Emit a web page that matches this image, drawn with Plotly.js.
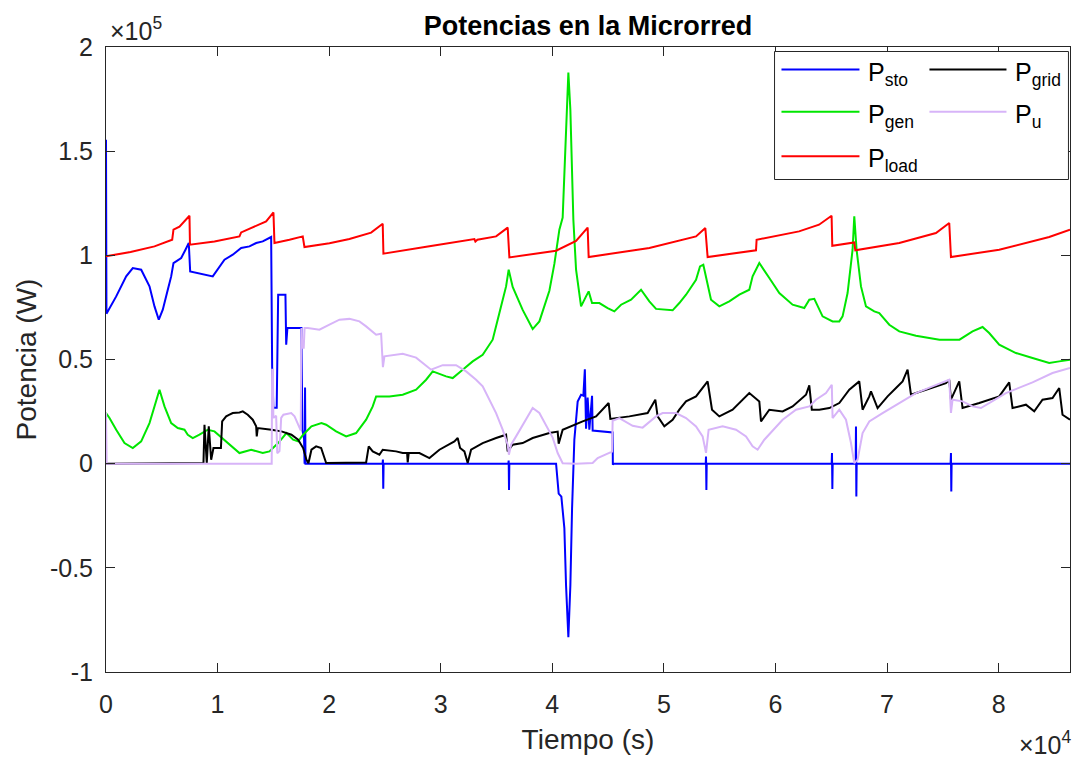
<!DOCTYPE html>
<html>
<head>
<meta charset="utf-8">
<script src="https://cdn.plot.ly/plotly-3.0.1.min.js"></script>
<style>html,body{margin:0;padding:0;background:#fff;}#chart{width:1075px;height:757px;}</style>
</head>
<body>
<div id="chart"></div>
<script>
// ---- Data (time in s, power in W) ----
const stoData = [[0,155500],[40,72000],[914,80300],[1810,89900],[2401,93900],[3154,93100],[3898,85100],[4346,75500],[4731,69100],[5089,73900],[5537,83500],[5842,89900],[6048,96300],[6433,97600],[6738,98700],[7123,102700],[7419,105900],[7544,92300],[8378,91200],[9569,89900],[10618,97900],[11361,100300],[12114,103500],[12858,104300],[13458,105900],[14049,106700],[14802,108800],[14891,46700],[15000,26900],[15300,26900],[15430,81100],[16083,81100],[16150,57100],[16260,65100],[17517,65100],[17600,16300],[17750,12000],[17800,0],[17840,36500],[17880,0],[24790,0],[24819,2000],[24850,-12000],[24880,0],[36060,0],[36091,1500],[36120,-12600],[36150,0],[40339,0],[40572,-14400],[40812,-15800],[41081,-30900],[41233,-58500],[41440,-83300],[41619,-58500],[41771,-21600],[41977,11500],[42273,29800],[42578,33100],[42784,32600],[42918,45300],[43025,16800],[43169,31700],[43322,16300],[43563,32600],[43617,15900],[45409,15000],[45427,-500],[45500,0],[53750,0],[53778,3400],[53810,-12600],[53840,0],[65040,0],[65068,5100],[65100,-12200],[65130,0],[67190,0],[67218,17800],[67250,-15800],[67280,0],[75700,0],[75730,5100],[75760,-13400],[75790,0],[86400,0]];

const genData = [[0,24300],[314,21900],[914,16300],[1658,9900],[2401,7500],[3154,10700],[3898,19500],[4346,27500],[4794,35500],[5242,27500],[5842,19500],[6433,17100],[7034,16300],[7329,13900],[7777,12300],[8378,13900],[9121,16300],[9722,15500],[10770,10700],[11962,5100],[13010,6700],[14049,5100],[14650,5900],[15429,9900],[16173,14700],[16773,11500],[17221,10700],[17669,13900],[18413,17900],[19309,19500],[19730,18700],[20626,15500],[21522,13100],[22418,14700],[23314,21100],[23905,27500],[24210,32300],[25402,32300],[26593,33100],[27794,35500],[28690,40300],[29281,44300],[30482,41900],[31073,41100],[31969,45100],[32865,49100],[33761,52300],[34657,59500],[35258,72300],[35858,85100],[36091,93100],[36449,84800],[37345,73800],[38241,64600],[38842,68300],[39738,83000],[40186,95900],[40634,112300],[40930,118100],[41082,138100],[41261,169900],[41440,187700],[41619,169900],[41771,143600],[41888,117100],[42130,93100],[42578,75500],[43025,80300],[43259,82700],[43563,77100],[44218,77100],[44961,74700],[45562,73100],[46162,76300],[47058,78700],[47954,83500],[48698,77900],[49298,74300],[50785,73600],[51386,77100],[51986,81100],[52882,88300],[53240,94700],[53536,95500],[53778,89900],[54226,78700],[54970,75500],[55866,77900],[56762,81100],[57658,83500],[57953,89900],[58554,96300],[59450,89100],[60346,81900],[61537,76300],[62586,74700],[63034,78700],[63482,79100],[64225,70700],[65121,68300],[65722,68300],[66017,70700],[66465,81900],[66913,102700],[67066,118700],[67272,102700],[67666,85100],[68114,75500],[68858,73100],[69306,72300],[70202,66700],[71098,63500],[72594,61400],[74704,59500],[76496,59500],[77665,63500],[78561,65600],[79156,62700],[80056,57100],[81554,53100],[83041,50700],[84536,48300],[85434,49100],[86400,49900]];

const loadData = [[0,99500],[2200,101600],[4346,104300],[5932,107500],[6048,112300],[6586,113800],[7482,119000],[7526,105100],[9722,106600],[11962,109100],[12114,111000],[14354,116300],[15008,120600],[15098,105900],[16442,107500],[17633,109100],[17786,104000],[20026,105800],[21818,107800],[23762,110900],[24801,115200],[24864,100800],[28986,104400],[33018,107800],[33107,106600],[33286,107500],[34962,109100],[36001,113300],[36154,99000],[40339,102200],[42130,106900],[43169,113300],[43259,99200],[48698,103500],[52882,109100],[53715,113100],[53921,99200],[58258,102400],[58312,107500],[62116,111500],[63908,114700],[65032,119000],[65094,104600],[67066,106200],[67156,102400],[71098,105900],[74386,110700],[75578,115500],[75730,99200],[80056,102700],[84536,108800],[86400,112300]];

const gridData = [[0,0],[8736,300],[8826,18700],[9032,300],[9211,17900],[9426,1900],[9632,7500],[10300,7500],[10411,20300],[10770,22700],[11066,23500],[11361,24300],[11962,24600],[12257,25100],[12705,23500],[13153,21100],[13458,17900],[13511,13100],[13601,17100],[14354,16700],[14829,16300],[15725,15500],[16621,13900],[17221,11500],[17669,7500],[17965,1900],[18144,200],[18413,6700],[18834,8300],[19282,7500],[19730,300],[23314,600],[23547,8300],[23905,5900],[24506,4300],[24801,6700],[26002,5900],[26593,5100],[26987,5100],[27041,600],[27131,5100],[28090,5100],[28986,2700],[29882,6700],[30778,9100],[31226,10700],[31522,12300],[31737,7500],[32122,5900],[32417,300],[32722,6700],[33761,9900],[34962,12300],[35858,13900],[36001,5900],[36449,9100],[37345,9900],[38241,12300],[39738,14700],[40482,15400],[40572,9600],[40930,16300],[42722,20300],[43922,22700],[45051,29100],[45203,21500],[46906,22700],[48545,24300],[49234,30700],[49441,22700],[50042,17900],[50785,21100],[51386,25900],[51986,29900],[52882,32300],[53921,39500],[54315,25900],[54970,22700],[56161,25900],[57658,33900],[58554,29900],[58706,20300],[59450,25900],[60641,25100],[61537,27500],[62738,33100],[63034,37600],[63258,25900],[63930,25900],[64826,26700],[65722,29100],[66618,35500],[67514,39500],[67810,25900],[68411,32300],[68563,34700],[69155,26700],[70051,32300],[70804,36300],[71395,39500],[71843,45100],[72148,33100],[73490,35500],[75282,38700],[75578,40300],[75730,30700],[76474,39500],[76770,26700],[78266,29100],[80056,32300],[80952,39000],[81249,26700],[82450,28300],[83194,25100],[83937,30700],[84833,31500],[85434,36300],[85729,23500],[86400,21100]];

const uData = [[0,24300],[60,0],[14850,0],[14891,45100],[14960,45100],[15000,22000],[15250,23000],[15350,5000],[15550,6000],[15700,22000],[15900,23500],[16600,24300],[16900,22700],[17250,18000],[17450,16000],[17520,65100],[17600,55700],[17720,55700],[17800,65100],[18082,65100],[19130,64300],[20026,66700],[20922,69100],[21818,69500],[22714,68300],[23314,65900],[24210,61900],[24658,62400],[24819,46300],[24954,51500],[26002,52300],[26593,52700],[27794,50900],[28385,48300],[29138,45100],[30177,47300],[31378,47300],[32274,44300],[33170,40300],[33761,37100],[34362,30700],[34962,24300],[35553,16300],[36001,9100],[36109,4300],[36306,9100],[36754,13100],[37650,21100],[38241,26700],[38842,24300],[39442,18700],[40034,12500],[40482,5100],[40930,200],[42130,0],[43617,300],[44065,2700],[44818,4300],[45355,5800],[45409,20600],[46010,21900],[47201,18200],[48097,17300],[49298,22700],[49889,24300],[51090,24300],[51986,21900],[52882,17900],[53473,13100],[53778,5200],[54011,16300],[55265,17900],[56466,16300],[57362,13100],[57953,8300],[58401,6700],[59002,11500],[60641,21100],[61841,25900],[63034,27500],[63633,30700],[64530,33900],[65050,37900],[65121,21900],[65722,25900],[66322,21100],[66770,9900],[67066,300],[67362,1900],[67810,14700],[68411,20300],[69601,24300],[71098,29100],[72594,33900],[74081,37100],[75578,40300],[75730,24400],[75874,30700],[76770,29900],[77665,27500],[78418,26700],[79156,29100],[80656,33900],[83041,39000],[84833,43500],[86400,45900]];

const xTickVals = [0,10000,20000,30000,40000,50000,60000,70000,80000];
const xTickText = ['0','1','2','3','4','5','6','7','8'];
const yTickVals = [-100000,-50000,0,50000,100000,150000,200000];
const yTickText = ['-1','-0.5','0','0.5','1','1.5','2'];

const seriesNames = ['P<sub>sto</sub>','P<sub>gen</sub>','P<sub>load</sub>','P<sub>grid</sub>','P<sub>u</sub>'];
const seriesColors = ['#0000ff','#00e600','#ff0000','#000000','#d7b4f8'];
const seriesData = [stoData, genData, loadData, gridData, uData];

// ---- Build traces ----
const traces = seriesData.map((d,i) => ({
  x: d.map(p => p[0]),
  y: d.map(p => p[1]),
  type: 'scatter',
  mode: 'lines',
  name: seriesNames[i],
  line: {color: seriesColors[i], width: 2},
  showlegend: false,
  hoverinfo: 'skip'
}));

const FONT = 'Liberation Sans, Arial, Helvetica, sans-serif';
const AX = '#262626';

// manual MATLAB-like legend (2 columns, column-major order)
const legCols = [0, 0, 0, 1, 1];
const legRows = [0, 1, 2, 0, 1];
const legLineX = [[0.7007, 0.7816], [0.8542, 0.9341]];
const legTextX = [0.7879, 0.9406];
const legRowY = [0.9640, 0.8963, 0.8253];
const shapes = [{
  type: 'rect', xref: 'paper', yref: 'paper', x0: 0.6935, x1: 0.9984, y0: 0.788, y1: 0.9928,
  line: {color: AX, width: 1}, fillcolor: '#ffffff', layer: 'above'
}];
const annotations = [];
seriesNames.forEach((nm, i) => {
  const c = legCols[i], r = legRows[i];
  shapes.push({type: 'line', xref: 'paper', yref: 'paper', x0: legLineX[c][0], x1: legLineX[c][1],
    y0: legRowY[r], y1: legRowY[r], line: {color: seriesColors[i], width: 2}, layer: 'above'});
  annotations.push({xref: 'paper', yref: 'paper', x: legTextX[c], y: legRowY[r], xanchor: 'left', yanchor: 'middle',
    yshift: -4, text: nm, showarrow: false, font: {family: FONT, size: 25, color: '#000'}});
});
annotations.push({xref: 'paper', yref: 'paper', x: 0.002, y: 1, xanchor: 'left', yanchor: 'bottom', yshift: 0,
  text: '\u00d710<sup>5</sup>', showarrow: false, font: {family: FONT, size: 25, color: AX}});
annotations.push({xref: 'paper', yref: 'paper', x: 1.003, y: -0.142, xanchor: 'right', yanchor: 'bottom',
  text: '\u00d710<sup>4</sup>', showarrow: false, font: {family: FONT, size: 25, color: AX}});

const layout = {
  width: 1075, height: 757,
  paper_bgcolor: '#ffffff', plot_bgcolor: '#ffffff',
  margin: {l: 106, r: 5, t: 47, b: 85, pad: 0},
  font: {family: FONT, size: 25, color: AX},
  title: {text: 'Potencias en la Microrred', x: 0.5, xref: 'paper', xanchor: 'center',
    y: 0.966, yref: 'container', yanchor: 'middle',
    font: {family: FONT, size: 27, color: '#000', weight: 'bold'}},
  xaxis: {
    range: [0, 86400], tickvals: xTickVals, ticktext: xTickText,
    ticks: 'inside', ticklen: 9, tickwidth: 1, tickcolor: AX,
    showline: true, linecolor: AX, linewidth: 1, mirror: 'ticks',
    showgrid: false, zeroline: false, ticklabelstandoff: 10,
    tickfont: {family: FONT, size: 25, color: AX},
    title: {text: 'Tiempo (s)', font: {family: FONT, size: 28, color: AX}, standoff: 12},
    automargin: false
  },
  yaxis: {
    range: [-100000, 200000], tickvals: yTickVals, ticktext: yTickText,
    ticks: 'inside', ticklen: 9, tickwidth: 1, tickcolor: AX,
    showline: true, linecolor: AX, linewidth: 1, mirror: 'ticks',
    showgrid: false, zeroline: false, ticklabelstandoff: 7,
    tickfont: {family: FONT, size: 25, color: AX},
    title: {text: 'Potencia (W)', font: {family: FONT, size: 28, color: AX}, standoff: 5},
    automargin: false
  },
  shapes: shapes,
  annotations: annotations,
  showlegend: false
};

Plotly.newPlot('chart', traces, layout, {displayModeBar: false, staticPlot: true});
</script>
</body>
</html>
